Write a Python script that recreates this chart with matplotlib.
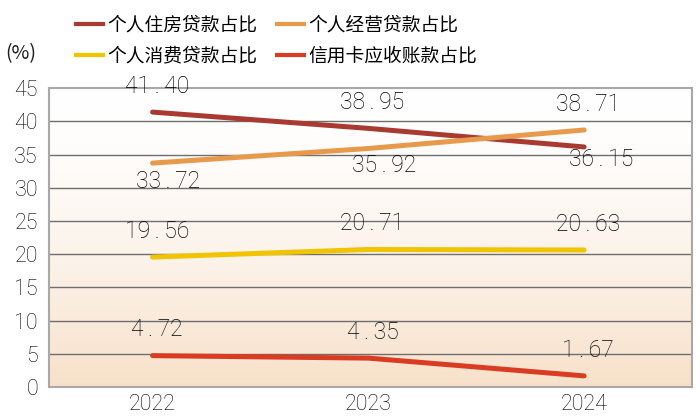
import numpy as np
import matplotlib.pyplot as plt
from matplotlib.lines import Line2D

plt.rcParams['font.family'] = ['Noto Sans CJK SC', 'DejaVu Sans']

years = ['2022', '2023', '2024']
housing = [41.40, 38.95, 36.15]
business = [33.72, 35.92, 38.71]
consumer = [19.56, 20.71, 20.63]
credit_card = [4.72, 4.35, 1.67]

names = ['个人住房贷款占比', '个人经营贷款占比', '个人消费贷款占比', '信用卡应收账款占比']
colors = ['#A83A32', '#E89A4C', '#F0C400', '#D93C22']
# label offsets in points (x, y)
up = (3, 18.5)
offsets = [[up, up, (12, -9)],
           [(11, -13), (11, -12), up],
           [up, up, up],
           [up, up, up]]

num_font = ['Roboto', 'DejaVu Sans']

fig = plt.figure(figsize=(7, 4.2), dpi=100)
ax = fig.add_axes([0.07, 0.0786, 0.9186, 0.7114])

x = np.arange(len(years))
ax.set_xlim(-0.48, 2.5)
ax.set_ylim(0, 45)

# gradient background
grad = np.linspace(0, 1, 256).reshape(-1, 1) ** 1.6
top = np.array([1.0, 1.0, 1.0])
bottom = np.array([0.97, 0.88, 0.79])
img = top + (bottom - top) * grad[..., None]
ax.imshow(img, extent=[-0.48, 2.5, 0, 45], aspect='auto', origin='upper', zorder=0)

for yv in range(5, 45, 5):
    ax.axhline(yv, color='#6E6E6E', lw=1.0, zorder=1)

series = [housing, business, consumer, credit_card]
for vals, c, offs in zip(series, colors, offsets):
    ax.plot(x, vals, color=c, lw=3.6, solid_capstyle='round', zorder=3)
    for xi, v, o in zip(x, vals, offs):
        ax.annotate(f'{v:.2f}'.replace('.', '\u2009.\u2009'), (xi, v), xytext=o,
                    textcoords='offset points', ha='center', va='center', fontsize=16.5,
                    family=num_font, fontweight='light', color='#000000', zorder=4)

ax.set_xticks(x)
ax.set_xticklabels(years)
ax.set_yticks(range(0, 46, 5))
ax.tick_params(length=0, labelsize=15.5, colors='#000000')
ax.tick_params(axis='y', pad=8)
ax.tick_params(axis='x', pad=5)
for lab in ax.get_xticklabels() + ax.get_yticklabels():
    lab.set_family(num_font)
    lab.set_fontweight('light')
for s in ax.spines.values():
    s.set_color('#A8A8A8')
    s.set_linewidth(1.5)

order = [0, 2, 1, 3]
handles = [Line2D([0], [0], color=colors[i], lw=3) for i in order]
fig.legend(handles, [names[i] for i in order], loc='upper left', bbox_to_anchor=(0.1086, 0.966),
           ncol=2, frameon=False, prop={'size': 13.5, 'weight': 'light'},
           handlelength=1.45, handletextpad=0.2,
           columnspacing=1.07, labelspacing=0.55, borderpad=0, borderaxespad=0)

fig.text(0.008, 0.872, '(%)', fontsize=14, color='#1E1E1E', va='center', fontweight='light')

fig.savefig('out.png', dpi=100)
